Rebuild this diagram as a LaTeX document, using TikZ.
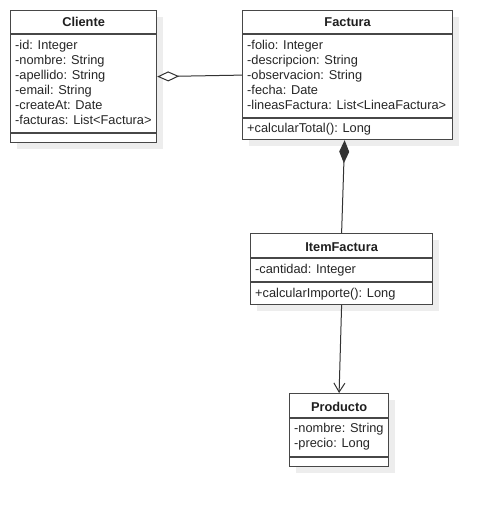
\documentclass[tikz,border=0pt]{standalone}
\usepackage{fontspec}
\setmainfont{Liberation Sans}
\usetikzlibrary{arrows.meta,shadows}
\begin{document}
\begin{tikzpicture}[x=1pt,y=-1pt,
  umlline/.style={draw=black!72, line width=1.2pt},
  edgeline/.style={draw=black!80, line width=1pt},
  classbox/.style={umlline, fill=white, rectangle, inner sep=0pt, anchor=north west,
    drop shadow={shadow xshift=6pt, shadow yshift=-6pt, fill=black!7, opacity=1}},
  divider/.style={umlline},
  title/.style={font=\fontsize{12.8}{15}\selectfont\bfseries, anchor=base, inner sep=0pt, text=black!88},
  member/.style={font=\fontsize{12.8}{15}\selectfont, anchor=base west, inner sep=0pt, text=black!85},
]
\useasboundingbox (0,0) rectangle (491,506);

% class boxes
\node[classbox, minimum width=146pt, minimum height=132pt] (cliente) at (10,10) {};
\node[classbox, minimum width=210pt, minimum height=129pt] (factura) at (242,10) {};
\node[classbox, minimum width=182pt, minimum height=71pt] (item) at (250,233) {};
\node[classbox, minimum width=99pt, minimum height=73pt] (producto) at (289,393) {};

% compartment dividers
\draw[divider] (cliente.west |- 0,34) -- (cliente.east |- 0,34);
\draw[divider] (cliente.west |- 0,133) -- (cliente.east |- 0,133);
\draw[divider] (factura.west |- 0,34) -- (factura.east |- 0,34);
\draw[divider] (factura.west |- 0,118) -- (factura.east |- 0,118);
\draw[divider] (item.west |- 0,258) -- (item.east |- 0,258);
\draw[divider] (item.west |- 0,282) -- (item.east |- 0,282);
\draw[divider] (producto.west |- 0,418) -- (producto.east |- 0,418);
\draw[divider] (producto.west |- 0,457) -- (producto.east |- 0,457);

% class names
\node[title] (clienteName) at (cliente.north |- 0,27) {Cliente};
\node[title] (facturaName) at (factura.north |- 0,27) {Factura};
\node[title] (itemName) at (item.north |- 0,251) {ItemFactura};
\node[title] (productoName) at (producto.north |- 0,411) {Producto};

% Cliente attributes
\node[member] (cli1) at (15,49) {-id: Integer};
\node[member] (cli2) at (15,64) {-nombre: String};
\node[member] (cli3) at (15,79) {-apellido: String};
\node[member] (cli4) at (15,94) {-email: String};
\node[member] (cli5) at (15,109) {-createAt: Date};
\node[member] (cli6) at (15,124) {-facturas: List<Factura>};

% Factura attributes and operations
\node[member] (fac1) at (247,49) {-folio: Integer};
\node[member] (fac2) at (247,64) {-descripcion: String};
\node[member] (fac3) at (247,79) {-observacion: String};
\node[member] (fac4) at (247,94) {-fecha: Date};
\node[member] (fac5) at (247,109) {-lineasFactura: List<LineaFactura>};
\node[member] (fac6) at (247,132) {+calcularTotal(): Long};

% ItemFactura
\node[member] (itm1) at (255,273) {-cantidad: Integer};
\node[member] (itm2) at (255,297) {+calcularImporte(): Long};

% Producto
\node[member] (pro1) at (294,432) {-nombre: String};
\node[member] (pro2) at (294,447) {-precio: Long};

% relationships
\draw[edgeline, {Diamond[open, length=22pt, width=10pt, fill=white]}-] (cliente.east) -- (factura.west);
\draw[edgeline, {Diamond[length=23pt, width=10pt]}-] ([xshift=-3pt]factura.south) -- (item.north);
\draw[edgeline, -{Straight Barb[length=9pt, width=11pt]}] (item.south) -- (producto.north);
\end{tikzpicture}
\end{document}
